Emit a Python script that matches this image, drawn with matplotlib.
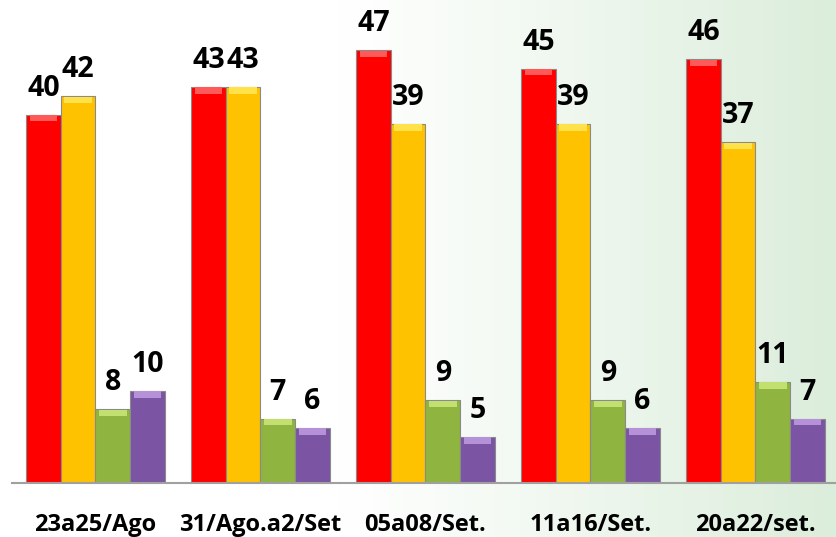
import matplotlib.pyplot as plt
import matplotlib.transforms as mtransforms
import numpy as np

categories = ['23a25/Ago', '31/Ago.a2/Set', '05a08/Set.', '11a16/Set.', '20a22/set.']
red_vals = [40, 43, 47, 45, 46]
gold_vals = [42, 43, 39, 39, 37]
green_vals = [8, 7, 9, 9, 11]
purple_vals = [10, 6, 5, 6, 7]

series = [red_vals, gold_vals, green_vals, purple_vals]
colors = ['#fe0000', '#fec200', '#8fb440', '#7b55a3']
tops = ['#ff5a5a', '#ffe14a', '#c2e070', '#b592d8']

plt.rcParams['font.family'] = ['Open Sans', 'DejaVu Sans']

W, H = 837, 537
fig = plt.figure(figsize=(W / 100, H / 100), dpi=100)

# background gradient: white on the left, pale green on the right
bg = fig.add_axes([0, 0, 1, 1])
grad = np.linspace(0, 1, 256)
grad = np.clip((grad - 0.4) / 0.6, 0, 1) ** 1.1
c0 = np.array([1.0, 1.0, 1.0])
c1 = np.array([0.86, 0.93, 0.86])
img = c0[None, :] * (1 - grad[:, None]) + c1[None, :] * grad[:, None]
bg.imshow(img[None, :, :], aspect='auto', extent=[0, 1, 0, 1])
bg.set_axis_off()

ax = fig.add_axes([12 / W, 54 / H, 825 / W, 483 / H])
ax.patch.set_alpha(0)
x = np.arange(len(categories))
bw = 0.21
for k, vals in enumerate(series):
    pos = x + (k - 1.5) * bw
    ax.bar(pos, vals, bw, color=colors[k], edgecolor='#8a8a8a', linewidth=0.8, zorder=2)
    ax.bar(pos, [0.7] * len(vals), bw * 0.8, bottom=np.array(vals) - 0.75,
           color=tops[k], linewidth=0, zorder=3)
    for p, v in zip(pos, vals):
        ax.text(p, v + 2.05, str(v), ha='center', va='baseline', fontsize=20.5,
                fontweight='bold', color='black', zorder=4)

ax.set_xlim(-0.506, 4.494)
ax.set_ylim(0, 52.44)
for s in ['top', 'right', 'left']:
    ax.spines[s].set_visible(False)
ax.spines['bottom'].set_color('#a0a0a0')
ax.spines['bottom'].set_linewidth(1.5)
ax.set_yticks([])
ax.set_xticks([])

# category labels below the axis line
trans = mtransforms.blended_transform_factory(ax.transData, ax.transAxes)
for xi, name in zip(x, categories):
    ax.text(xi, -0.099, name, transform=trans, ha='center', va='baseline',
            fontsize=17, fontweight='bold', clip_on=False)

fig.savefig('out.png', dpi=100)
